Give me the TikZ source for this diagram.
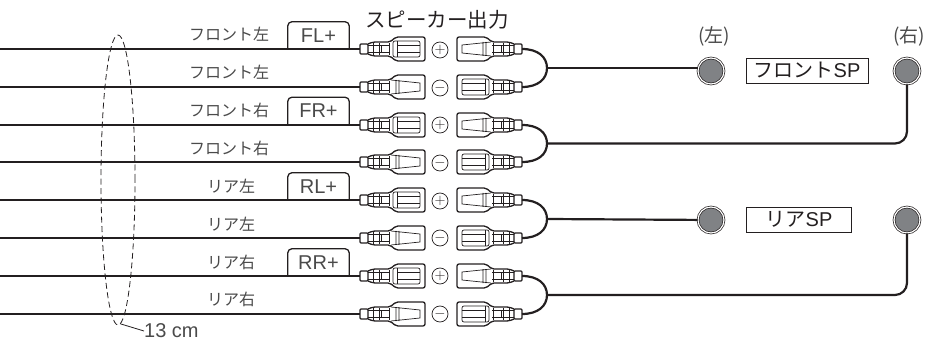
\documentclass[tikz,border=0pt]{standalone}
\usepackage{fontspec}
\setmainfont{Noto Sans CJK JP}
\newfontfamily\latinfont{Liberation Sans}
\usetikzlibrary{shapes.geometric}
\definecolor{inkdark}{HTML}{231F20}
\definecolor{inklabel}{HTML}{4A4A4A}
\definecolor{spgray}{HTML}{808285}
\newcommand{\jpsize}[1]{\fontsize{#1}{#1}\selectfont}
\newcommand{\plugbody}{
	\coordinate (-end) at (0,0);
	\draw[plugline,rounded corners=1pt] (0,-5) rectangle (8,5);
	\draw[plugline,rounded corners=2pt] (8,-5)--(13,-7)--(30,-7)--(36,-12)--(65,-12)--(65,12)--(36,12)--(30,7)--(13,7)--(8,5);
	\draw[pluginner] (8,-3.5)--(30,-3.5) (8,3.5)--(30,3.5) (13,-7)--(13,7) (19,-6)--(19,6) (21,-3.5)--(21,3.5) (29,-6)--(29,6);
}
\tikzset{
	wire/.style={draw=inkdark,line width=2.2pt},
	plugline/.style={draw=inkdark,line width=1.3pt,line join=round},
	pluginner/.style={draw=inkdark,line width=0.7pt},
	wirelabel/.style={text=inklabel,inner sep=0pt,font=\jpsize{16}},
	tabtext/.style={text=inklabel,inner sep=0pt,minimum width=61pt,minimum height=27pt,font=\latinfont\jpsize{20}},
	tabline/.style={draw=inkdark,line width=1.3pt,rounded corners=4pt},
	polar/.style={circle,draw=inkdark,line width=0.7pt,inner sep=0pt,minimum size=16pt,text=inkdark,font=\jpsize{14}},
	spcircle/.style={circle,draw=inkdark,fill=spgray,line width=0.7pt,double=white,double distance=1.2pt,inner sep=0pt,minimum size=26pt},
	spbox/.style={draw=inkdark,line width=0.8pt,inner sep=0pt,minimum height=25pt,text=inkdark,font=\jpsize{20}},
	side/.style={text=inklabel,inner sep=0pt,font=\jpsize{19}},
	plugwide/.pic={
		\plugbody
		\draw[pluginner,rounded corners=2pt] (33,-8) rectangle (60,8);
		\draw[pluginner] (37,-3.5)--(60,-3.5) (37,3.5)--(60,3.5) (37,-8)--(37,8);
	},
	plugnarrow/.pic={
		\plugbody
		\draw[pluginner] (31,-7)--(60,-4)--(60,4)--(31,7) (36,-7)--(36,7) (39,-7)--(39,7);
	},
}
\begin{document}
\begin{tikzpicture}[x=1pt,y=-1pt]
	\useasboundingbox (0,0) rectangle (930,342);
	% free ends of the wires
	\coordinate (W1) at (0,49);
	\coordinate (W2) at (0,87);
	\coordinate (W3) at (0,125);
	\coordinate (W4) at (0,162);
	\coordinate (W5) at (0,200);
	\coordinate (W6) at (0,238);
	\coordinate (W7) at (0,276);
	\coordinate (W8) at (0,314);
	% left plugs
	\pic (L1) at (360,49) {plugwide};
	\pic (L2) at (360,87) {plugnarrow};
	\pic (L3) at (360,125) {plugwide};
	\pic (L4) at (360,162) {plugnarrow};
	\pic (L5) at (360,200) {plugwide};
	\pic (L6) at (360,238) {plugnarrow};
	\pic (L7) at (360,276) {plugwide};
	\pic (L8) at (360,314) {plugnarrow};
	% right plugs
	\pic[xscale=-1] (R1) at (522,49) {plugnarrow};
	\pic[xscale=-1] (R2) at (522,87) {plugwide};
	\pic[xscale=-1] (R3) at (522,125) {plugnarrow};
	\pic[xscale=-1] (R4) at (522,162) {plugwide};
	\pic[xscale=-1] (R5) at (522,200) {plugnarrow};
	\pic[xscale=-1] (R6) at (522,238) {plugwide};
	\pic[xscale=-1] (R7) at (522,276) {plugnarrow};
	\pic[xscale=-1] (R8) at (522,314) {plugwide};
	\draw 
	node[polar](P1)at(440,50){$+$}
	node[polar](P2)at(440,88){$-$}
	node[polar](P3)at(440,125){$+$}
	node[polar](P4)at(440,163){$-$}
	node[polar](P5)at(440,201){$+$}
	node[polar](P6)at(440,238){$-$}
	node[polar](P7)at(440,276){$+$}
	node[polar](P8)at(440,314){$-$};
	\draw 
	node[wirelabel](T1)at(229,34){フロント左}
	node[wirelabel](T2)at(229,72){フロント左}
	node[wirelabel](T3)at(229,110){フロント右}
	node[wirelabel](T4)at(229,148){フロント右}
	node[wirelabel](T5)at(231,186){リア左}
	node[wirelabel](T6)at(231,224){リア左}
	node[wirelabel](T7)at(231,262){リア右}
	node[wirelabel](T8)at(231,299){リア右};
	\draw 
	node[tabtext](FL)at(318.5,35.5){FL+}
	node[tabtext](FR)at(318.5,111){FR+}
	node[tabtext](RL)at(318.5,186.5){RL+}
	node[tabtext](RR)at(318.5,262.5){RR+};
	\draw[tabline](FL.south west)|-(FL.north east)--(FL.south east);
	\draw[tabline](FR.south west)|-(FR.north east)--(FR.south east);
	\draw[tabline](RL.south west)|-(RL.north east)--(RL.south east);
	\draw[tabline](RR.south west)|-(RR.north east)--(RR.south east);
	\node[text=inkdark,inner sep=0pt,font=\jpsize{20.5}](title)at(437,20){スピーカー出力};
	% speakers
	\draw 
	node[spcircle](SFL)at(711,71){}
	node[spcircle](SFR)at(907,71){}
	node[spcircle](SRL)at(711,220){}
	node[spcircle](SRR)at(907,220){}
	node[side](LL)at(714,36){(左)}
	node[side](LR)at(909,36){(右)}
	node[spbox,minimum width=122pt](BF)at(807,70.5){フロント{\latinfont SP}}
	node[spbox,minimum width=105pt](BR)at(799,219.5){リア{\latinfont SP}};
	% wires
	\draw[wire](W1)--(L1-end);
	\draw[wire](W2)--(L2-end);
	\draw[wire](W3)--(L3-end);
	\draw[wire](W4)--(L4-end);
	\draw[wire](W5)--(L5-end);
	\draw[wire](W6)--(L6-end);
	\draw[wire](W7)--(L7-end);
	\draw[wire](W8)--(L8-end);
	\coordinate (J1) at (547,68);
	\coordinate (J2) at (547,143.5);
	\coordinate (J3) at (547,219);
	\coordinate (J4) at (547,295);
	\draw[wire](R1-end).. controls +(16,0) and +(0,-11) ..(J1).. controls +(0,11) and +(16,0) ..(R2-end);
	\draw[wire](R3-end).. controls +(16,0) and +(0,-11) ..(J2).. controls +(0,11) and +(16,0) ..(R4-end);
	\draw[wire](R5-end).. controls +(16,0) and +(0,-11) ..(J3).. controls +(0,11) and +(16,0) ..(R6-end);
	\draw[wire](R7-end).. controls +(16,0) and +(0,-11) ..(J4).. controls +(0,11) and +(16,0) ..(R8-end);
	\draw[wire](J1)--(J1-|SFL.west);
	\draw[wire](J3)--(SRL);
	\draw[wire,rounded corners=12pt](J2)-|(SFR);
	\draw[wire,rounded corners=12pt](J4)-|(SRR);
	% length mark
	\node[ellipse,draw=inkdark,line width=0.8pt,dash pattern=on 6pt off 3.5pt,inner sep=0pt,minimum width=34pt,minimum height=290pt](EL)at(118,180){};
	\node[text=inklabel,inner sep=0pt,anchor=west,font=\latinfont\jpsize{20}](CM)at(144,331){13 cm};
	\draw[line width=0.8pt,draw=inkdark](EL.-89)--(CM.west);
\end{tikzpicture}
\end{document}
